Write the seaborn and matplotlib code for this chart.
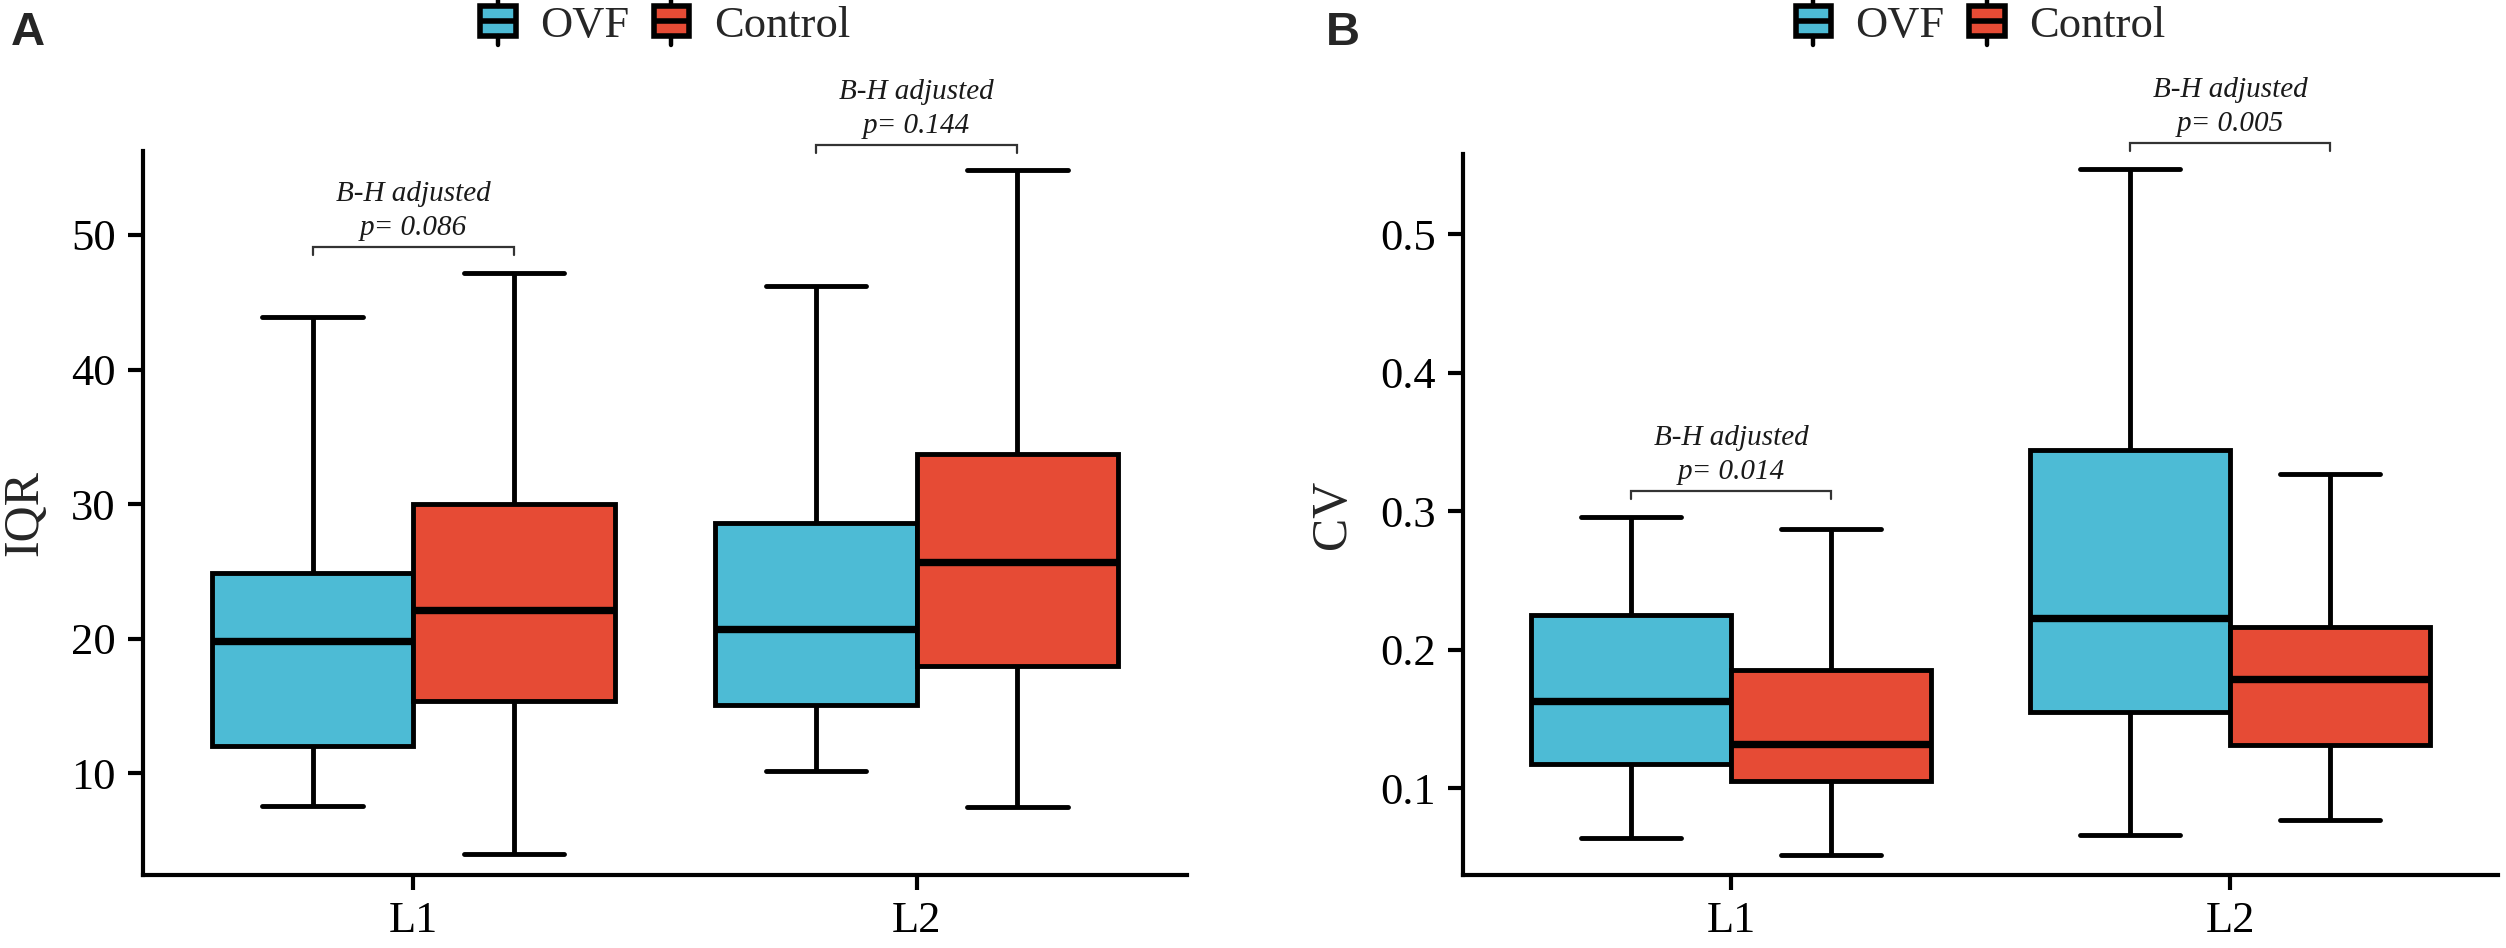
import numpy as np
import pandas as pd
import matplotlib
matplotlib.use("Agg")
import matplotlib.pyplot as plt
import seaborn as sns
from matplotlib.patches import Rectangle
from matplotlib.lines import Line2D
from matplotlib.legend_handler import HandlerBase

# ---------------- data ----------------
levels = ["L1", "L2"]
groups = ["OVF", "Control"]
colors = ["#4DBBD5", "#E64B35"]

# five-number summaries: min, Q1, median, Q3, max
iqr_ovf_L1 = [7.6, 12.0, 19.8, 24.9, 43.9]
iqr_ctl_L1 = [4.0, 15.4, 22.1, 30.0, 47.2]
iqr_ovf_L2 = [10.2, 15.1, 20.7, 28.6, 46.2]
iqr_ctl_L2 = [7.5, 18.0, 25.7, 33.7, 54.8]

cv_ovf_L1 = [0.064, 0.117, 0.163, 0.225, 0.296]
cv_ctl_L1 = [0.052, 0.105, 0.132, 0.185, 0.287]
cv_ovf_L2 = [0.066, 0.155, 0.223, 0.344, 0.547]
cv_ctl_L2 = [0.077, 0.131, 0.179, 0.216, 0.327]

iqr_pvals = ["0.086", "0.144"]
cv_pvals = ["0.014", "0.005"]
iqr_brackets = [49.1, 56.7]
cv_brackets = [0.3144, 0.566]

iqr_ticks = [10, 20, 30, 40, 50]
cv_ticks = [0.1, 0.2, 0.3, 0.4, 0.5]


def long_frame(ovf1, ctl1, ovf2, ctl2):
    rows = []
    for lvl, grp, vals in [("L1", "OVF", ovf1), ("L1", "Control", ctl1),
                           ("L2", "OVF", ovf2), ("L2", "Control", ctl2)]:
        for v in vals:
            rows.append({"level": lvl, "group": grp, "value": v})
    return pd.DataFrame(rows)


df_iqr = long_frame(iqr_ovf_L1, iqr_ctl_L1, iqr_ovf_L2, iqr_ctl_L2)
df_cv = long_frame(cv_ovf_L1, cv_ctl_L1, cv_ovf_L2, cv_ctl_L2)

# ---------------- style ----------------
sns.set_theme(style="ticks")
plt.rcParams["font.family"] = ["Liberation Serif", "DejaVu Serif"]
plt.rcParams["axes.linewidth"] = 3
plt.rcParams["xtick.major.width"] = 3
plt.rcParams["ytick.major.width"] = 3
plt.rcParams["xtick.major.size"] = 10.8
plt.rcParams["ytick.major.size"] = 10.8
plt.rcParams["xtick.major.pad"] = 8
plt.rcParams["ytick.major.pad"] = 9

fig = plt.figure(figsize=(25.06, 9.48), dpi=100)
axA = fig.add_axes([143 / 2506, 1 - 875 / 948, (1187 - 143) / 2506, (875 - 151) / 948])
axB = fig.add_axes([1463 / 2506, 1 - 875 / 948, (2498 - 1463) / 2506, (875 - 154) / 948])

palette = dict(zip(groups, colors))


class BoxHandler(HandlerBase):
    def create_artists(self, legend, orig_handle, xdescent, ydescent,
                       width, height, fontsize, trans):
        fc = orig_handle.get_facecolor()
        x0, y0 = -xdescent, -ydescent
        stub = height * 0.3
        rect = Rectangle((x0, y0), width, height, facecolor=fc,
                         edgecolor="black", lw=4, transform=trans)
        med = Line2D([x0, x0 + width], [y0 + height / 2] * 2, color="black",
                     lw=4, transform=trans, solid_capstyle="butt")
        cx = x0 + width / 2
        top = Line2D([cx, cx], [y0 + height, y0 + height + stub], color="black",
                     lw=3.2, transform=trans)
        bot = Line2D([cx, cx], [y0, y0 - stub], color="black", lw=3.2,
                     transform=trans)
        return [rect, med, top, bot]


def draw(ax, df, ylabel, ylim, ticks, brackets, pvals, label_x):
    sns.boxplot(data=df, x="level", y="value", hue="group", order=levels,
                hue_order=groups, palette=palette, saturation=1, width=0.8,
                gap=0, whis=(0, 100), linewidth=3.5, linecolor="black",
                medianprops=dict(linewidth=5.3, color="black"),
                showfliers=False, legend=False, ax=ax)
    ax.set_xlim(-0.537, 1.537)
    ax.set_ylim(*ylim)
    ax.set_yticks(ticks)
    ax.set_yticklabels([f"{t:g}" for t in ticks])
    ax.tick_params(axis="both", labelsize=32, colors="black", direction="out")
    ax.set_xlabel("")
    ax.set_ylabel(ylabel, fontsize=36, va="center")
    ax.yaxis.set_label_coords(label_x, 0.5)
    sns.despine(ax=ax)
    for sp in ["left", "bottom"]:
        ax.spines[sp].set_color("black")
    rng = ylim[1] - ylim[0]
    drop = 0.011 * rng
    for i, (yb, p) in enumerate(zip(brackets, pvals)):
        xl, xr = i - 0.2, i + 0.2
        ax.plot([xl, xl, xr, xr], [yb - drop, yb, yb, yb - drop], color="#333333",
                lw=1.6, clip_on=False, solid_joinstyle="miter")
        ax.annotate(f"p= {p}", xy=(i, yb), xytext=(0, 8.6), textcoords="offset points",
                    ha="center", va="baseline", fontsize=21, style="italic",
                    color="#1a1a1a", annotation_clip=False)
        ax.annotate("B-H adjusted", xy=(i, yb), xytext=(0, 33), textcoords="offset points",
                    ha="center", va="baseline", fontsize=21, style="italic",
                    color="#1a1a1a", annotation_clip=False)
    handles = [Rectangle((0, 0), 1, 1, facecolor=c) for c in colors]
    bbox = ax.get_position()
    ax.legend(handles, groups, handler_map={Rectangle: BoxHandler()},
              loc="center", bbox_to_anchor=((bbox.x0 + bbox.x1) / 2, 1 - 26 / 948),
              bbox_transform=fig.transFigure, ncol=2, frameon=False, fontsize=32,
              handlelength=0.8, handleheight=0.66, handletextpad=0.55,
              columnspacing=0.55, borderaxespad=0, borderpad=0)


draw(axA, df_iqr, "IQR", (2.44, 56.24), iqr_ticks, iqr_brackets, iqr_pvals, -0.113)
draw(axB, df_cv, "CV", (0.0372, 0.5578), cv_ticks, cv_brackets, cv_pvals, -0.126)

fig.text(11 / 2506, 1 - 11 / 948, "A", fontsize=34, fontweight="bold",
         family=["Liberation Sans", "DejaVu Sans"], ha="left", va="top")
fig.text(1326 / 2506, 1 - 11 / 948, "B", fontsize=34, fontweight="bold",
         family=["Liberation Sans", "DejaVu Sans"], ha="left", va="top")

fig.savefig("out.png", dpi=100, facecolor="white")
